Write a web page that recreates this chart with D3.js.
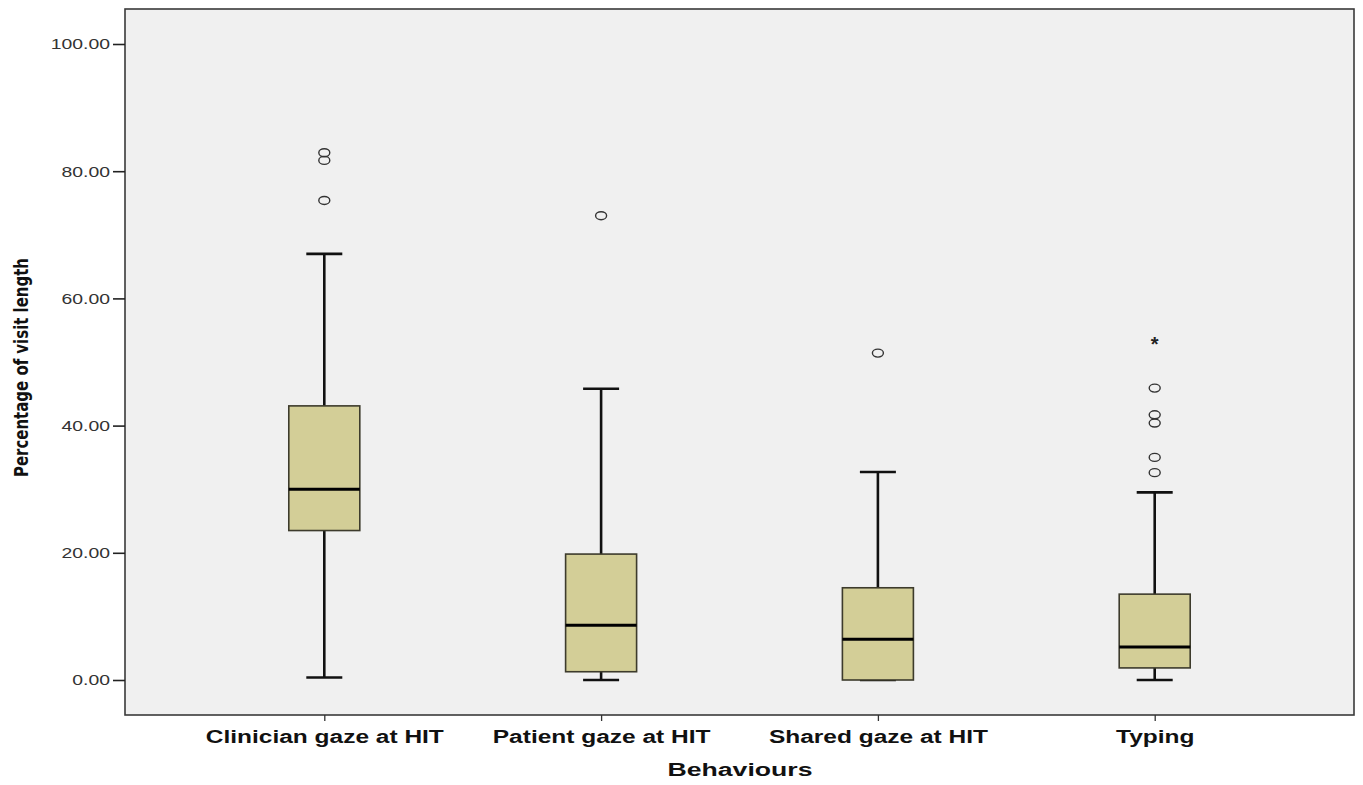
<!DOCTYPE html>
<html>
<head>
<meta charset="utf-8">
<script src="https://cdn.jsdelivr.net/npm/d3@7"></script>
<style>
  body { margin: 0; background: #fff; }
</style>
</head>
<body>
<svg id="chart" width="1363" height="785"></svg>
<script>
// data
const categories = ["Clinician gaze at HIT", "Patient gaze at HIT", "Shared gaze at HIT", "Typing"];
const q1 = [23.5, 1.3, 0.0, 1.9];
const medians = [30.0, 8.6, 6.4, 5.2];
const q3 = [43.1, 19.8, 14.5, 13.5];
const whiskerLow = [0.4, 0.0, 0.0, 0.0];
const whiskerHigh = [67.0, 45.8, 32.7, 29.5];
const outliers = [
    [82.9, 81.7, 75.4],
    [73.0],
    [51.4],
    [45.9, 41.7, 40.4, 35.0, 32.6]
];
const extremes = [[], [], [], [53.3]];
const yTicks = [0, 20, 40, 60, 80, 100];

const svg = d3.select("#chart");
const frame = { left: 125, top: 9, right: 1354, bottom: 715 };
const font = "'Liberation Sans', Arial, sans-serif";

const y = d3.scaleLinear().domain([0, 100]).range([680, 44]);
const x = d3.scalePoint().domain(categories).range([frame.left, frame.right]).padding(0.72);

const boxW = 71;
const capW = 36;

// the source image is stretched sideways, so widen glyphs a bit
function stretch(sel, k) {
    sel.each(function () {
        const w = this.getComputedTextLength();
        d3.select(this).attr("textLength", w * k).attr("lengthAdjust", "spacingAndGlyphs");
    });
}

// background panel
svg.append("rect")
    .attr("x", frame.left).attr("y", frame.top)
    .attr("width", frame.right - frame.left).attr("height", frame.bottom - frame.top)
    .attr("fill", "#f0f0f0")
    .attr("stroke", "#3a3a3a")
    .attr("stroke-width", 1.6);

// y axis
const yAxis = d3.axisLeft(y).tickValues(yTicks).tickSize(12).tickFormat(d3.format(".2f"));
const gy = svg.append("g").attr("transform", `translate(${frame.left},0)`).call(yAxis);
gy.select(".domain").remove();
gy.selectAll("line").attr("stroke", "#222").attr("stroke-width", 1.6);
gy.selectAll("text")
    .attr("fill", "#333")
    .style("font-family", font)
    .style("font-size", "15.5px")
    .attr("x", -15)
    .call(stretch, 1.25);

// x axis
const xAxis = d3.axisBottom(x).tickSize(6).tickPadding(8);
const gx = svg.append("g").attr("transform", `translate(0,${frame.bottom})`).call(xAxis);
gx.select(".domain").remove();
gx.selectAll("line").attr("stroke", "#333").attr("stroke-width", 1.3);
gx.selectAll("text")
    .attr("fill", "#111")
    .attr("dy", "0.8em")
    .style("font-family", font)
    .style("font-size", "18px")
    .style("font-weight", "bold")
    .call(stretch, 1.36);

// boxes
const rows = categories.map((c, i) => ({
    cat: c, q1: q1[i], med: medians[i], q3: q3[i],
    lo: whiskerLow[i], hi: whiskerHigh[i],
    out: outliers[i], ext: extremes[i]
}));

const g = svg.append("g");
const bx = g.selectAll("g.box").data(rows).join("g").attr("class", "box");

// whisker stems
bx.append("line")
    .attr("x1", d => x(d.cat)).attr("x2", d => x(d.cat))
    .attr("y1", d => y(d.hi)).attr("y2", d => y(d.q3))
    .attr("stroke", "#111").attr("stroke-width", 2.6);
bx.append("line")
    .attr("x1", d => x(d.cat)).attr("x2", d => x(d.cat))
    .attr("y1", d => y(d.q1)).attr("y2", d => y(d.lo))
    .attr("stroke", "#111").attr("stroke-width", 2.6);
// caps
bx.append("line")
    .attr("x1", d => x(d.cat) - capW / 2).attr("x2", d => x(d.cat) + capW / 2)
    .attr("y1", d => y(d.hi)).attr("y2", d => y(d.hi))
    .attr("stroke", "#111").attr("stroke-width", 2.6);
bx.append("line")
    .attr("x1", d => x(d.cat) - capW / 2).attr("x2", d => x(d.cat) + capW / 2)
    .attr("y1", d => y(d.lo)).attr("y2", d => y(d.lo))
    .attr("stroke", "#111").attr("stroke-width", 2.6);

bx.append("rect")
    .attr("x", d => x(d.cat) - boxW / 2)
    .attr("width", boxW)
    .attr("y", d => y(d.q3))
    .attr("height", d => y(d.q1) - y(d.q3))
    .attr("fill", "#d3ce97")
    .attr("stroke", "#3d3b2c")
    .attr("stroke-width", 1.6);

bx.append("line")
    .attr("x1", d => x(d.cat) - boxW / 2).attr("x2", d => x(d.cat) + boxW / 2)
    .attr("y1", d => y(d.med)).attr("y2", d => y(d.med))
    .attr("stroke", "#000").attr("stroke-width", 3);

// outliers (circles) and extremes (stars)
bx.each(function (d) {
    const s = d3.select(this);
    s.selectAll("ellipse").data(d.out).join("ellipse")
        .attr("cx", x(d.cat)).attr("cy", v => y(v))
        .attr("rx", 5.5).attr("ry", 4)
        .attr("fill", "none").attr("stroke", "#333").attr("stroke-width", 1.4);
    s.selectAll("text.ext").data(d.ext).join("text")
        .attr("class", "ext")
        .attr("x", x(d.cat)).attr("y", v => y(v))
        .attr("dy", "0.5em")
        .attr("text-anchor", "middle")
        .style("font-family", font)
        .style("font-size", "20px")
        .style("font-weight", "bold")
        .attr("fill", "#222")
        .text("*");
});

// axis titles
svg.append("text")
    .attr("transform", `translate(28,${(258 + 477) / 2}) rotate(-90)`)
    .attr("text-anchor", "middle")
    .attr("textLength", 219)
    .attr("lengthAdjust", "spacingAndGlyphs")
    .style("font-family", "'Liberation Sans Narrow', 'DejaVu Sans Condensed', Arial, sans-serif")
    .style("font-size", "19px")
    .style("font-weight", "bold")
    .attr("fill", "#111")
    .text("Percentage of visit length");

svg.append("text")
    .attr("x", 740).attr("y", 776)
    .attr("text-anchor", "middle")
    .attr("textLength", 145)
    .attr("lengthAdjust", "spacingAndGlyphs")
    .style("font-family", font)
    .style("font-size", "18px")
    .style("font-weight", "bold")
    .attr("fill", "#111")
    .text("Behaviours");
</script>
</body>
</html>
